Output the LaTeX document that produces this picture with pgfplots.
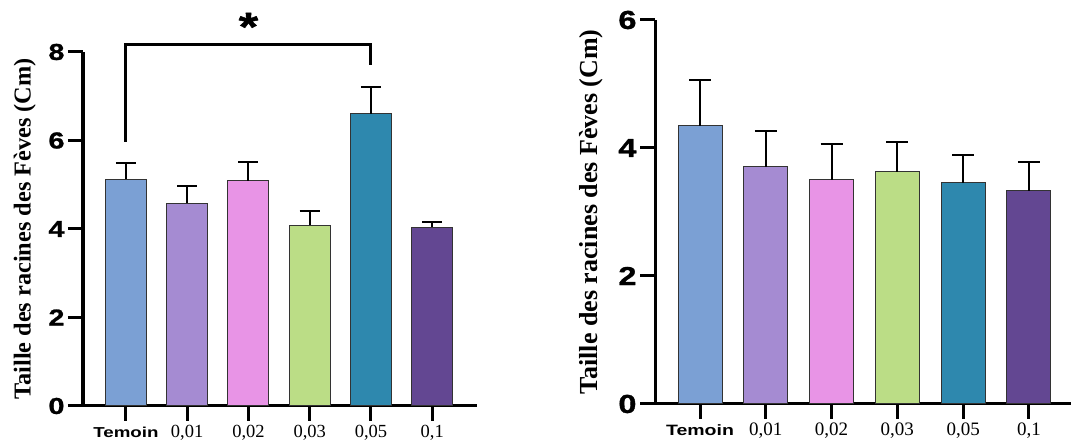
\documentclass[border=0pt]{standalone}
\usepackage{pgfplots}
\pgfplotsset{compat=1.18}
\usepackage{fontspec}
\setmainfont{Liberation Serif}
\newfontfamily\tsans[FakeStretch=1.3]{Liberation Sans}
\newfontfamily\tnum[FakeStretch=1.25, FakeBold=1.2]{Liberation Sans}
\definecolor{cA}{HTML}{7BA0D4}
\definecolor{cB}{HTML}{A58BD2}
\definecolor{cC}{HTML}{E894E6}
\definecolor{cD}{HTML}{BBDD86}
\definecolor{cE}{HTML}{2E88AE}
\definecolor{cF}{HTML}{634792}
\begin{document}
\begin{tikzpicture}
\pgfplotsset{
  myax/.style={
    scale only axis, axis x line=bottom, axis y line=left,
    axis line style={line width=3pt, -, black},
    tick align=outside, major tick length=15pt,
    tick style={line width=3pt, black},
    xtick={0,1,2,3,4,5},
    ymin=0, clip=false,
    xticklabel style={text height=13pt, text depth=4pt},
  },
  eb/.style={ybar, bar shift=0pt, draw=black!80, line width=1pt,
    error bars/.cd, y dir=plus, y explicit,
    error bar style={line width=2pt, black},
    error mark options={rotate=90, line width=2pt, black, mark size=#1}},
}
% ---------------- left panel ----------------
\begin{axis}[myax,
  at={(83pt,40pt)}, anchor=south west,
  width=394pt, height=354pt,
  xmin=-0.70, xmax=5.73, ymax=8,
  ytick={0,2,4,6,8}, yticklabels={0,2,4,6,8},
  yticklabel style={font=\tnum\bfseries\fontsize{23}{23}\selectfont},
  xticklabels={{\tsans\bfseries\fontsize{14.4}{14.4}\selectfont Temoin},{0,01},{0,02},{0,03},{0,05},{0,1}},
  xticklabel style={font=\fontsize{18.5}{18.5}\selectfont},
  ylabel={Taille des racines des Fèves (Cm)},
  every axis y label/.style={at={(axis description cs:-0.148,0.5)}, rotate=90, anchor=center,
    font=\bfseries\fontsize{24.3}{25}\selectfont},
]
\addplot[fill=cA, bar width=41pt, eb=10pt] coordinates {(0,5.12) +- (0,0.37)};
\addplot[fill=cB, bar width=41pt, eb=10pt] coordinates {(1,4.58) +- (0,0.39)};
\addplot[fill=cC, bar width=41pt, eb=10pt] coordinates {(2,5.09) +- (0,0.43)};
\addplot[fill=cD, bar width=41pt, eb=10pt] coordinates {(3,4.09) +- (0,0.32)};
\addplot[fill=cE, bar width=41pt, eb=10pt] coordinates {(4,6.61) +- (0,0.60)};
\addplot[fill=cF, bar width=41pt, eb=10pt] coordinates {(5,4.04) +- (0,0.11)};
\addplot[black, line width=3pt, no marks, line join=miter] coordinates {(0,5.97) (0,8.16) (4,8.16) (4,7.70)};
\node[font=\tnum\bfseries\fontsize{40}{40}\selectfont, anchor=base] at (axis cs:2,8.26) {*};
\end{axis}
% ---------------- right panel ----------------
\begin{axis}[myax,
  at={(655pt,42pt)}, anchor=south west,
  width=416pt, height=384pt,
  xmin=-0.684, xmax=5.64, ymax=6,
  ytick={0,2,4,6}, yticklabels={0,2,4,6},
  yticklabel style={font=\tnum\bfseries\fontsize{26}{26}\selectfont},
  xticklabels={{\tsans\bfseries\fontsize{15}{15}\selectfont Temoin},{0,01},{0,02},{0,03},{0,05},{0,1}},
  xticklabel style={font=\fontsize{19}{19}\selectfont},
  ylabel={Taille des racines des Fèves (Cm)},
  every axis y label/.style={at={(axis description cs:-0.154,0.5)}, rotate=90, anchor=center,
    font=\bfseries\fontsize{26}{27}\selectfont},
]
\addplot[fill=cA, bar width=44pt, eb=11pt] coordinates {(0,4.35) +- (0,0.71)};
\addplot[fill=cB, bar width=44pt, eb=11pt] coordinates {(1,3.71) +- (0,0.56)};
\addplot[fill=cC, bar width=44pt, eb=11pt] coordinates {(2,3.50) +- (0,0.56)};
\addplot[fill=cD, bar width=44pt, eb=11pt] coordinates {(3,3.63) +- (0,0.46)};
\addplot[fill=cE, bar width=44pt, eb=11pt] coordinates {(4,3.46) +- (0,0.43)};
\addplot[fill=cF, bar width=44pt, eb=11pt] coordinates {(5,3.33) +- (0,0.45)};
\end{axis}
\pgfresetboundingbox
\path[use as bounding box] (0,0) rectangle (1071pt,446pt);
\end{tikzpicture}
\end{document}
